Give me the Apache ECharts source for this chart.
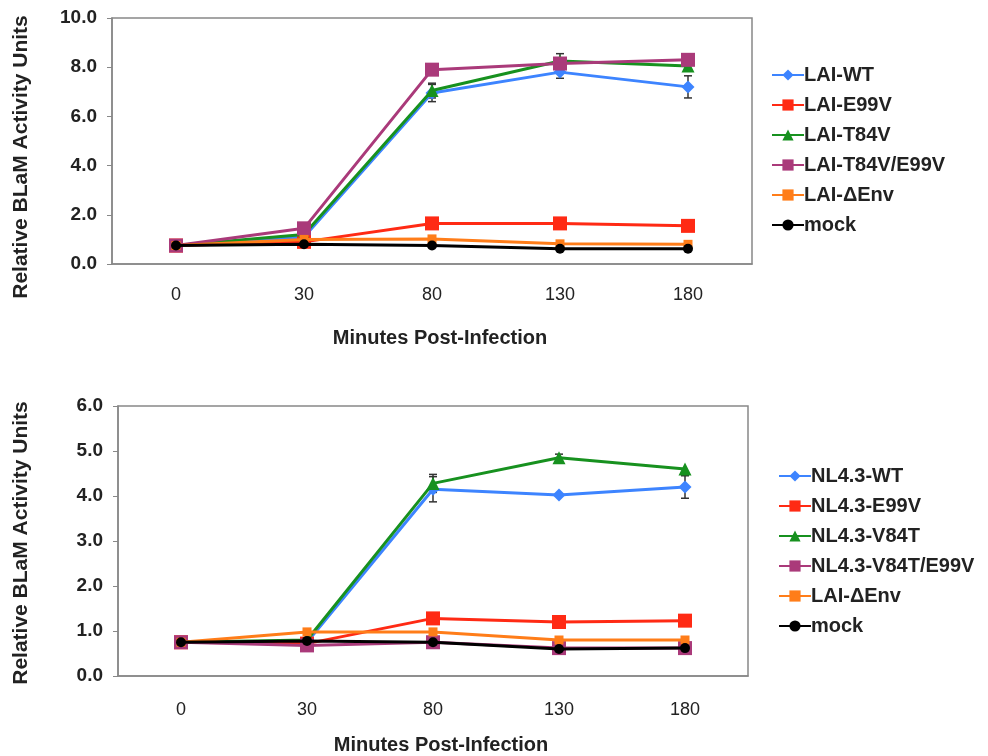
<!DOCTYPE html>
<html>
<head>
<meta charset="utf-8">
<script src="https://cdn.jsdelivr.net/npm/echarts@6/dist/echarts.min.js"></script>
<style>
html,body{margin:0;padding:0;background:#fff;}
#c{width:988px;height:756px;}
</style>
</head>
<body>
<div id="c"></div>
<script>
// ---- data ----
var categories = ['0', '30', '80', '130', '180'];

var topNames = ['LAI-WT', 'LAI-E99V', 'LAI-T84V', 'LAI-T84V/E99V', 'LAI-\u0394Env', 'mock'];
var topWT      = [0.75, 1.10, 6.95, 7.80, 7.20];
var topE99V    = [0.75, 0.90, 1.65, 1.65, 1.55];
var topT84V    = [0.75, 1.20, 7.05, 8.25, 8.05];
var topT84VE99V= [0.75, 1.45, 7.90, 8.15, 8.30];
var topDEnv    = [0.75, 1.00, 1.02, 0.82, 0.80];
var topMock    = [0.75, 0.80, 0.75, 0.62, 0.62];
var topWTErr   = [0, 0, 0.35, 0.25, 0.45];
var topT84VErr = [0, 0, 0.30, 0.30, 0];

var botNames = ['NL4.3-WT', 'NL4.3-E99V', 'NL4.3-V84T', 'NL4.3-V84T/E99V', 'LAI-\u0394Env', 'mock'];
var botWT      = [0.75, 0.75, 4.15, 4.02, 4.20];
var botE99V    = [0.75, 0.72, 1.28, 1.20, 1.23];
var botV84T    = [0.75, 0.80, 4.28, 4.85, 4.60];
var botV84TE99V= [0.75, 0.68, 0.75, 0.62, 0.62];
var botDEnv    = [0.75, 0.98, 0.98, 0.80, 0.80];
var botMock    = [0.75, 0.78, 0.75, 0.60, 0.62];
var botWTErr   = [0, 0, 0.28, 0, 0.25];
var botV84TErr = [0, 0, 0.20, 0.08, 0];

var topTicks = [0, 2, 4, 6, 8, 10];
var botTicks = [0, 1, 2, 3, 4, 5, 6];

// ---- styles ----
var colors = ['#3d84ff', '#ff2a14', '#17911f', '#aa3a7a', '#ff7d19', '#000000'];
var symbols = ['diamond', 'rect', 'triangle', 'rect', 'rect', 'circle'];
var sizes = [13, 14, 13, 14, 9, 10];
var FONT = 'Liberation Sans, Arial, sans-serif';
var FS = 19;

function mkLines(names, datas, gi) {
  return datas.map(function (d, i) {
    return {
      name: names[i], type: 'line', data: d,
      xAxisIndex: gi, yAxisIndex: gi,
      symbol: symbols[i], symbolSize: sizes[i], showSymbol: true,
      lineStyle: { width: 3, color: colors[i] },
      itemStyle: { color: colors[i] },
      emphasis: { disabled: true },
      z: 3 + i
    };
  });
}

function mkErr(vals, errs, gi) {
  var d = vals.map(function (v, i) { return [i, v, errs[i]]; }).filter(function (r) { return r[2] > 0; });
  return {
    type: 'custom', xAxisIndex: gi, yAxisIndex: gi, data: d, z: 2, silent: true,
    renderItem: function (params, api) {
      var x = api.value(0), v = api.value(1), e = api.value(2);
      var hi = api.coord([x, v + e]), lo = api.coord([x, v - e]);
      var w = 4;
      var st = { stroke: '#333', lineWidth: 1.5 };
      return { type: 'group', children: [
        { type: 'line', shape: { x1: hi[0], y1: hi[1], x2: lo[0], y2: lo[1] }, style: st },
        { type: 'line', shape: { x1: hi[0] - w, y1: hi[1], x2: hi[0] + w, y2: hi[1] }, style: st },
        { type: 'line', shape: { x1: lo[0] - w, y1: lo[1], x2: lo[0] + w, y2: lo[1] }, style: st }
      ]};
    }
  };
}

function mkX(gi, margin, gap) {
  return {
    type: 'category', gridIndex: gi, data: categories, boundaryGap: true,
    axisLine: { lineStyle: { color: '#888', width: 1.5 } },
    axisTick: { show: false },
    axisLabel: { color: '#222', fontFamily: FONT, fontSize: 18, margin: margin },
    name: 'Minutes Post-Infection', nameLocation: 'middle', nameGap: gap,
    nameTextStyle: { color: '#222', fontFamily: FONT, fontSize: 20, fontWeight: 'bold', padding: [0, 0, 0, 16] }
  };
}

function mkY(gi, ticks, gap, pad) {
  return {
    type: 'value', gridIndex: gi, min: ticks[0], max: ticks[ticks.length - 1],
    interval: ticks[1] - ticks[0],
    axisLine: { show: true, lineStyle: { color: '#888', width: 1.5 } },
    axisTick: { show: true, length: 5, lineStyle: { color: '#888' } },
    splitLine: { show: false },
    axisLabel: { color: '#222', fontFamily: FONT, fontSize: FS, fontWeight: 'bold', margin: 15,
      formatter: function (v) { return v.toFixed(1); } },
    name: 'Relative BLaM Activity Units', nameLocation: 'middle', nameGap: gap, nameRotate: 90,
    nameTextStyle: { color: '#222', fontFamily: FONT, fontSize: 21, fontWeight: 'bold', padding: pad }
  };
}

function mkLegend(names, left, top) {
  return {
    data: names, orient: 'vertical', left: left, top: top,
    itemWidth: 32, itemHeight: 14, itemGap: 10, selectedMode: false,
    textStyle: { color: '#222', fontFamily: FONT, fontSize: 20, lineHeight: 19, fontWeight: 'bold', padding: [0, 0, 0, -5] }
  };
}

var chart = echarts.init(document.getElementById('c'), null, { renderer: 'canvas' });
chart.setOption({
  backgroundColor: '#ffffff',
  animation: false,
  grid: [
    { left: 112, top: 18, width: 640, height: 246, show: true, borderColor: '#888', borderWidth: 1.5 },
    { left: 118, top: 406, width: 630, height: 271, show: true, borderColor: '#888', borderWidth: 1.5 }
  ],
  xAxis: [mkX(0, 22, 64), mkX(1, 25, 59)],
  yAxis: [mkY(0, topTicks, 80, [0, 32, 0, 0]), mkY(1, botTicks, 86, [0, 4, 0, 0])],
  legend: [mkLegend(topNames, 766, 60), mkLegend(botNames, 773, 461)],
  series: []
    .concat([mkErr(topWT, topWTErr, 0), mkErr(topT84V, topT84VErr, 0)])
    .concat(mkLines(topNames, [topWT, topE99V, topT84V, topT84VE99V, topDEnv, topMock], 0))
    .concat([mkErr(botWT, botWTErr, 1), mkErr(botV84T, botV84TErr, 1)])
    .concat(mkLines(botNames, [botWT, botE99V, botV84T, botV84TE99V, botDEnv, botMock], 1))
});
</script>
</body>
</html>
